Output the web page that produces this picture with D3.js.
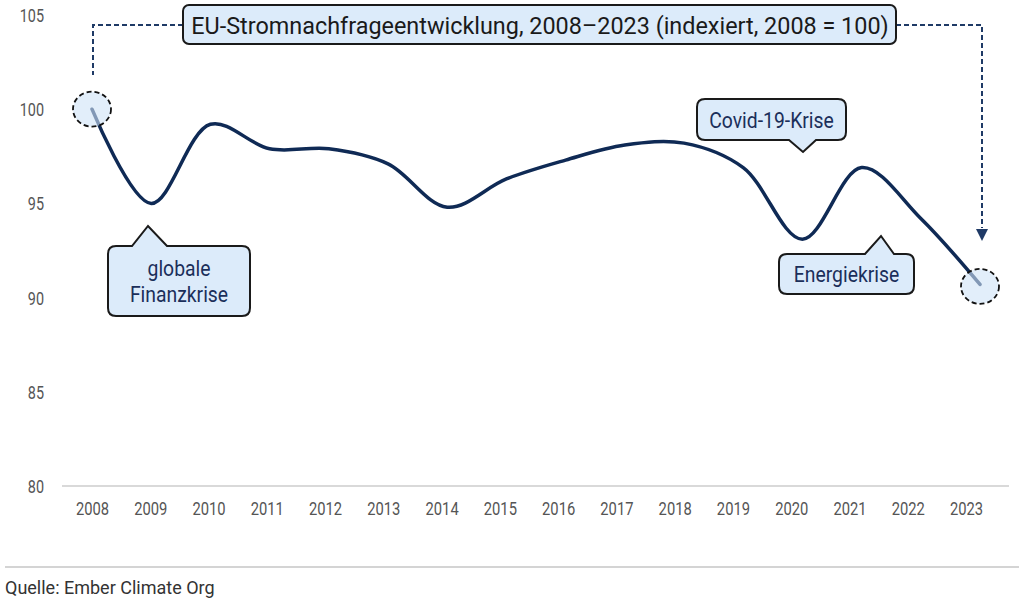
<!DOCTYPE html>
<html>
<head>
<meta charset="utf-8">
<script src="https://cdn.jsdelivr.net/npm/d3@7"></script>
<style>
  body { margin: 0; background: #fff; }
  text { font-family: Roboto, "Noto Sans", sans-serif; }
</style>
</head>
<body>
<svg id="chart" width="1024" height="601"></svg>
<script>
// data
var years = [2008, 2009, 2010, 2011, 2012, 2013, 2014, 2015, 2016, 2017, 2018, 2019, 2020, 2021, 2022, 2023];
var demand = [100, 95.0, 99.2, 97.9, 97.9, 97.1, 94.8, 96.3, 97.3, 98.1, 98.2, 96.9, 93.1, 96.9, 94.2, 90.7];
var yTicks = [80, 85, 90, 95, 100, 105];
var titleText = "EU-Stromnachfrageentwicklung, 2008\u20132023 (indexiert, 2008 = 100)";
var notes = [
  { lines: ["globale", "Finanzkrise"], year: 2009 },
  { lines: ["Covid-19-Krise"], year: 2020 },
  { lines: ["Energiekrise"], year: 2022 }
];

var svg = d3.select("#chart");
var navy = "#0f2a55", boxFill = "#dcebfa";

var y = d3.scaleLinear().domain([80, 105]).range([486, 15]);
var xAxisScale = d3.scalePoint().domain(years).range([92, 966]);
var x = d3.scaleLinear().domain([2008, 2023]).range([92, 980]);

// baseline
svg.append("line")
  .attr("x1", 62).attr("x2", 1009)
  .attr("y1", y(80)).attr("y2", y(80))
  .attr("stroke", "#d9d9d9").attr("stroke-width", 2);

// y axis labels (narrow look)
var yAxis = svg.append("g")
  .attr("transform", "translate(44,0)")
  .call(d3.axisLeft(y).tickValues(yTicks).tickSize(0).tickPadding(0));
yAxis.select(".domain").remove();
yAxis.selectAll("text").attr("font-size", 18).attr("fill", "#555")
  .attr("x", 0).attr("dy", "0.36em")
  .attr("transform", "scale(0.8,1)")
  .style("font-family", "Roboto");

// x axis labels
var xAxis = svg.append("g")
  .attr("transform", "translate(0,502)")
  .call(d3.axisBottom(xAxisScale).tickSize(0).tickPadding(0).tickFormat(d3.format("d")));
xAxis.select(".domain").remove();
xAxis.selectAll("text").attr("font-size", 18).attr("fill", "#555")
  .attr("transform", "scale(0.82,1)")
  .style("font-family", "Roboto");

// line
var line = d3.line()
  .x(function(d, i) { return x(years[i]); })
  .y(function(d) { return y(d); })
  .curve(d3.curveCatmullRom.alpha(0.5));

svg.append("path")
  .datum(demand)
  .attr("d", line)
  .attr("fill", "none")
  .attr("stroke", navy)
  .attr("stroke-width", 3.5)
  .attr("stroke-linecap", "round");

// dashed connectors from title
var xs = x(years[0]), xe = x(years[years.length - 1]) + 2;
var ty = 25;
svg.append("path")
  .attr("d", "M183," + ty + "H" + (xs + 1) + "V75")
  .attr("fill", "none").attr("stroke", "#1f3a66").attr("stroke-width", 2)
  .attr("stroke-dasharray", "5,3");
svg.append("path")
  .attr("d", "M896," + ty + "H" + xe + "V228")
  .attr("fill", "none").attr("stroke", "#1f3a66").attr("stroke-width", 2)
  .attr("stroke-dasharray", "5,3");
svg.append("path")
  .attr("d", "M" + (xe - 6) + ",229L" + (xe + 6) + ",229L" + xe + ",241Z")
  .attr("fill", "#1f3a66");

// end circles
[0, years.length - 1].forEach(function(i) {
  svg.append("ellipse")
    .attr("cx", x(years[i])).attr("cy", y(demand[i]) + (i === 0 ? 0 : 2))
    .attr("rx", 19).attr("ry", 17.5)
    .attr("fill", "#cfe3f6").attr("fill-opacity", 0.6)
    .attr("stroke", "#111").attr("stroke-width", 1.8)
    .attr("stroke-dasharray", "5,3");
});

// title box
svg.append("rect")
  .attr("x", 183).attr("y", 5).attr("width", 713).attr("height", 39)
  .attr("rx", 6)
  .attr("fill", boxFill).attr("stroke", "#1a1a1a").attr("stroke-width", 2);
svg.append("text")
  .attr("x", 540).attr("y", 34)
  .attr("text-anchor", "middle")
  .attr("font-size", 23.4).attr("fill", "#1a1a1a")
  .text(titleText);

// callouts: box + pointer
function callout(bx, by, bw, bh, tipX, tipY, baseL, baseR, lines, up) {
  var r = 8, edge = up ? by : by + bh;
  var p = d3.path();
  p.moveTo(bx + r, by);
  if (up) { p.lineTo(baseL, by); p.lineTo(tipX, tipY); p.lineTo(baseR, by); }
  p.lineTo(bx + bw - r, by);
  p.quadraticCurveTo(bx + bw, by, bx + bw, by + r);
  p.lineTo(bx + bw, by + bh - r);
  p.quadraticCurveTo(bx + bw, by + bh, bx + bw - r, by + bh);
  if (!up) { p.lineTo(baseR, edge); p.lineTo(tipX, tipY); p.lineTo(baseL, edge); }
  p.lineTo(bx + r, by + bh);
  p.quadraticCurveTo(bx, by + bh, bx, by + bh - r);
  p.lineTo(bx, by + r);
  p.quadraticCurveTo(bx, by, bx + r, by);
  p.closePath();
  svg.append("path").attr("d", p.toString())
    .attr("fill", boxFill).attr("stroke", "#1a1a1a").attr("stroke-width", 2);
  var lh = 26;
  var cy = by + bh / 2 - (lines.length - 1) * lh / 2 + 8;
  lines.forEach(function(t, i) {
    svg.append("text")
      .attr("transform", "translate(" + (bx + bw / 2) + "," + (cy + i * lh) + ") scale(0.88,1)")
      .attr("text-anchor", "middle")
      .attr("font-size", 22).attr("fill", "#1b2f5a")
      .text(t);
  });
}

callout(108, 246, 142, 70, 148, 226, 132, 167, notes[0].lines, true);
callout(697, 99, 149, 41, 803, 152, 789, 816, notes[1].lines, false);
callout(779, 254, 135, 40, 881, 236, 865, 894, notes[2].lines, true);

// footer
svg.append("line")
  .attr("x1", 5).attr("x2", 1019).attr("y1", 567).attr("y2", 567)
  .attr("stroke", "#aaa").attr("stroke-width", 1.2);
svg.append("text")
  .attr("x", 5).attr("y", 594)
  .attr("font-size", 18).attr("fill", "#333")
  .text("Quelle: Ember Climate Org");
</script>
</body>
</html>
